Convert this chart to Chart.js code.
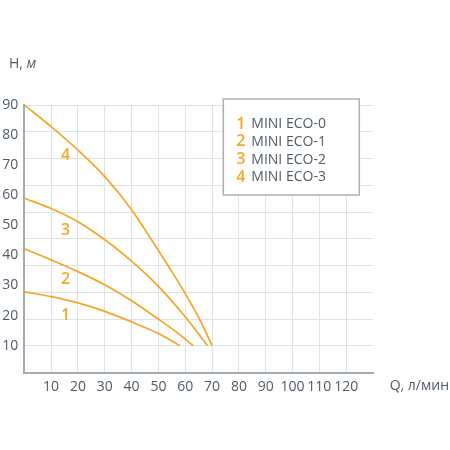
<!DOCTYPE html>
<html>
<head>
<meta charset="utf-8">
<script src="https://cdn.jsdelivr.net/npm/chart.js@4"></script>
<style>
html,body{margin:0;padding:0;background:#fff;}
#wrap{width:450px;height:450px;position:relative;}
</style>
</head>
<body>
<div id="wrap"><canvas id="c" width="450" height="450"></canvas></div>
<script>
// ---- data ----
const curveNumbers = ['1', '2', '3', '4'];
const seriesNames = ['MINI ECO-0', 'MINI ECO-1', 'MINI ECO-2', 'MINI ECO-3'];
const q1 = [0, 10, 20, 30, 40, 50, 58];
const h1 = [27.9, 26.3, 24.2, 21.4, 17.9, 14.0, 10];
const q2 = [0, 10, 20, 30, 40, 50, 57, 63];
const h2 = [42.2, 38.5, 34.6, 30.2, 24.9, 18.8, 14.3, 10];
const q3 = [0, 10, 20, 30, 40, 50, 60, 68.3];
const h3 = [59, 55.6, 51.2, 45.2, 38.1, 29.7, 19.6, 10];
const q4 = [0, 10, 20, 30, 40, 50, 55, 60, 65, 70];
const h4 = [90, 82.8, 75.0, 66.2, 55.2, 41.6, 34.6, 27.3, 19.4, 10];
const yTickValues = [10, 20, 30, 40, 50, 60, 70, 80, 90];
const xTickValues = [10, 20, 30, 40, 50, 60, 70, 80, 90, 100, 110, 120];
const curveLabelQ = [15.4, 15.4, 15.4, 15.4];
const curveLabelH = [19.9, 32.1, 48.2, 73.3];
const yTitle = ['H, ', 'м'];
const xTitle = 'Q, л/мин';

const ORANGE = '#f6a623';
const TEXT = '#4f5b67';
const GRID = '#dfe3e7';
const AXIS = '#a3abb3';
const FONT = '"Open Sans"';

const toPts = (qs, hs) => qs.map((q, i) => ({x: q, y: hs[i]}));
const series = [toPts(q1, h1), toPts(q2, h2), toPts(q3, h3), toPts(q4, h4)];

const overlay = {
  id: 'overlay',
  afterDatasetsDraw(chart) {
    const ctx = chart.ctx;
    const xs = chart.scales.x, ys = chart.scales.y;
    const ca = chart.chartArea;
    ctx.save();
    // curve numbers
    ctx.fillStyle = ORANGE;
    ctx.font = '600 16px ' + FONT;
    ctx.textAlign = 'center';
    ctx.textBaseline = 'middle';
    curveNumbers.forEach((n, i) => {
      ctx.fillText(n, xs.getPixelForValue(curveLabelQ[i]), ys.getPixelForValue(curveLabelH[i]));
    });
    // legend box
    const bx = ca.left + 199, by = ca.top - 6, bw = 136, bh = 96;
    ctx.fillStyle = '#ffffff';
    ctx.fillRect(bx, by, bw, bh);
    ctx.strokeStyle = '#aab1b8';
    ctx.lineWidth = 1.5;
    ctx.strokeRect(bx, by, bw, bh);
    ctx.textAlign = 'left';
    ctx.textBaseline = 'middle';
    seriesNames.forEach((name, i) => {
      const yy = by + 25 + i * 17.8;
      ctx.fillStyle = ORANGE;
      ctx.font = '600 16px ' + FONT;
      ctx.fillText(curveNumbers[i], bx + 13, yy);
      ctx.fillStyle = TEXT;
      ctx.font = '14px ' + FONT;
      ctx.fillText(name, bx + 28, yy);
    });
    // axis titles
    ctx.fillStyle = TEXT;
    ctx.font = '14px ' + FONT;
    ctx.textBaseline = 'middle';
    ctx.fillText(yTitle[0], 9, 64);
    const w0 = ctx.measureText(yTitle[0]).width;
    ctx.font = 'italic 14px ' + FONT;
    ctx.fillText(yTitle[1], 9 + w0, 64);
    ctx.font = '14px ' + FONT;
    ctx.textAlign = 'right';
    ctx.fillText(xTitle, 449, 386);
    ctx.restore();
  }
};

new Chart(document.getElementById('c'), {
  type: 'line',
  data: {
    datasets: series.map((d, i) => ({
      label: seriesNames[i],
      data: d,
      borderColor: ORANGE,
      borderWidth: 1.7,
      pointRadius: 0,
      fill: false,
      tension: 0.3,
      yAxisID: 'y',
      xAxisID: 'x'
    }))
  },
  options: {
    responsive: false,
    animation: false,
    devicePixelRatio: 1,
    layout: {padding: {top: 105, right: 77, left: 0, bottom: 0}},
    plugins: {legend: {display: false}, tooltip: {enabled: false}},
    scales: {
      x: {
        type: 'linear', position: 'bottom', min: 0, max: 130,
        afterBuildTicks: s => { s.ticks = [0].concat(xTickValues).concat([130]).map(v => ({value: v})); },
        afterFit: s => { s.height = 77.3; },
        ticks: {
          color: TEXT, font: {family: FONT, size: 14}, padding: 6, maxRotation: 0, autoSkip: false,
          callback: v => (xTickValues.includes(v) ? String(v) : '')
        },
        grid: {
          drawTicks: false,
          color: c => (c.tick && (c.tick.value === 0 || c.tick.value === 130)) ? 'rgba(0,0,0,0)' : GRID,
          lineWidth: 1
        },
        border: {display: true, color: AXIS, width: 2}
      },
      y: {
        type: 'linear', position: 'left', min: 1, max: 90,
        afterBuildTicks: s => { s.ticks = yTickValues.map(v => ({value: v})); },
        afterFit: s => { s.width = 24.3; },
        ticks: {color: TEXT, font: {family: FONT, size: 14}, padding: 6, autoSkip: false},
        grid: {display: false, drawTicks: false},
        border: {display: true, color: AXIS, width: 2}
      },
      y2: {
        type: 'linear', position: 'left', min: 0, max: 10,
        afterBuildTicks: s => { s.ticks = [0,1,2,3,4,5,6,7,8,9,10].map(v => ({value: v})); },
        afterFit: s => { s.width = 0; },
        ticks: {display: false},
        grid: {
          drawTicks: false,
          color: c => (c.tick && c.tick.value === 0) ? 'rgba(0,0,0,0)' : GRID,
          lineWidth: 1
        },
        border: {display: false}
      }
    }
  },
  plugins: [overlay]
});
</script>
</body>
</html>
